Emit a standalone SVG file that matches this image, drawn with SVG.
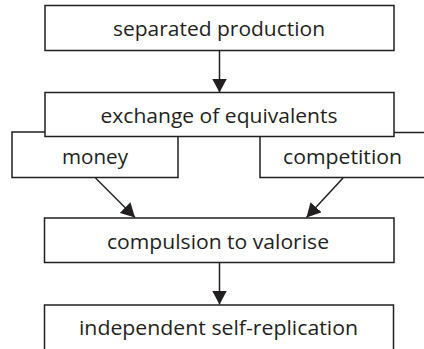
<svg xmlns="http://www.w3.org/2000/svg" width="424" height="349" viewBox="0 0 424 349">
<style>
.box{fill:#fff;stroke:#231f20;stroke-width:1.5}
.lbl{font-family:"Open Sans","Noto Sans","Liberation Sans",sans-serif;font-size:20.5px;fill:#231f20;text-anchor:middle;font-variant-ligatures:none}
.con{stroke:#231f20;stroke-width:1.5;fill:none}
</style>
<defs>
<marker id="ah" viewBox="0 0 14 15" refX="14" refY="7.5" markerWidth="14" markerHeight="15" markerUnits="userSpaceOnUse" orient="auto">
<path d="M0,0 L14,7.5 L0,15 Z" fill="#231f20"/>
</marker>
</defs>
<g id="connectors">
<line class="con" x1="219.5" y1="51" x2="219.5" y2="92.5" marker-end="url(#ah)"/>
<line class="con" x1="95.5" y1="178" x2="135" y2="217.5" marker-end="url(#ah)"/>
<line class="con" x1="343" y1="178" x2="306.5" y2="217.5" marker-end="url(#ah)"/>
<line class="con" x1="219.5" y1="263" x2="219.5" y2="304.5" marker-end="url(#ah)"/>
</g>
<g id="money">
<rect class="box" x="12" y="132" width="166" height="45.5"/>
<text class="lbl" x="95" y="164" textLength="66" lengthAdjust="spacingAndGlyphs">money</text>
</g>
<g id="competition">
<rect class="box" x="260" y="132.5" width="180" height="45"/>
<text class="lbl" x="342.5" y="164" textLength="119" lengthAdjust="spacingAndGlyphs">competition</text>
</g>
<g id="separated-production">
<rect class="box" x="45" y="5.5" width="349" height="45"/>
<text class="lbl" x="219" y="35.5" textLength="212" lengthAdjust="spacingAndGlyphs">separated production</text>
</g>
<g id="exchange">
<rect class="box" x="45" y="92.5" width="349" height="44"/>
<text class="lbl" x="219" y="123" textLength="237" lengthAdjust="spacingAndGlyphs">exchange of equivalents</text>
</g>
<g id="compulsion">
<rect class="box" x="44.5" y="218" width="349.5" height="44.5"/>
<text class="lbl" x="218" y="249" textLength="222" lengthAdjust="spacingAndGlyphs">compulsion to valorise</text>
</g>
<g id="self-replication">
<rect class="box" x="44.5" y="305" width="349" height="60"/>
<text class="lbl" x="218.5" y="335" textLength="279" lengthAdjust="spacingAndGlyphs">independent self-replication</text>
</g>
</svg>
